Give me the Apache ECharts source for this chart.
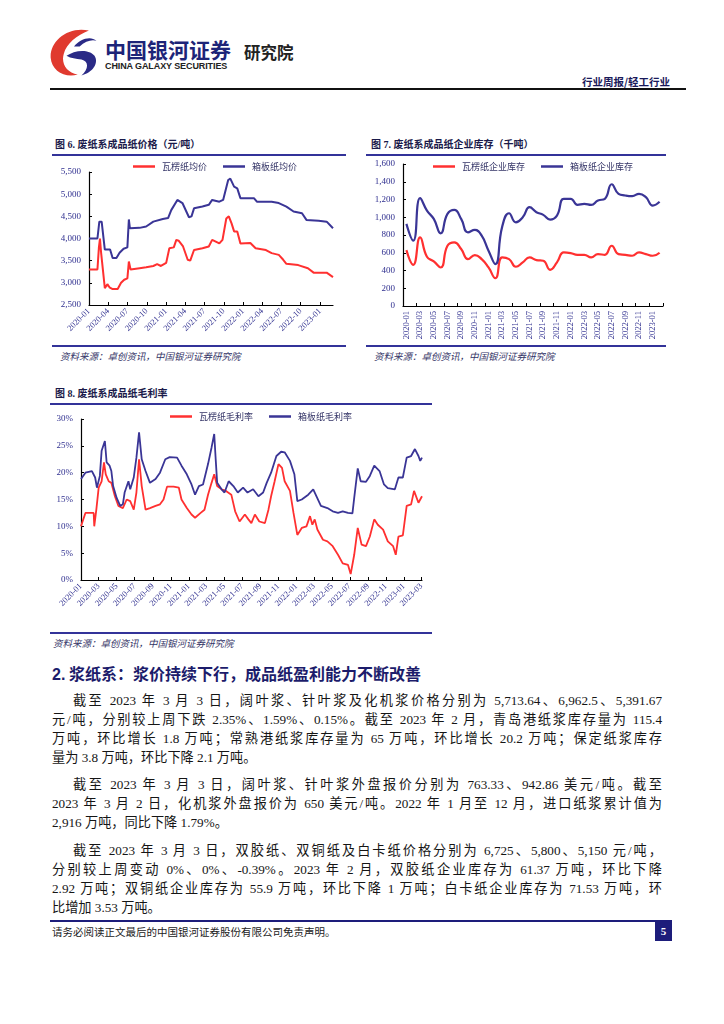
<!DOCTYPE html>
<html><head><meta charset="utf-8">
<script src="https://cdn.jsdelivr.net/npm/echarts@6.0.0/dist/echarts.min.js"></script>
<style>
html,body{margin:0;padding:0;background:#fff;}
#page{position:relative;width:724px;height:1024px;overflow:hidden;font-family:"Noto Sans CJK SC","Liberation Serif",serif;}
.abs{position:absolute;white-space:nowrap;}
.rule{position:absolute;background:#333399;height:2px;}
.title{position:absolute;font-size:10px;font-weight:bold;color:#1a1a4a;line-height:14px;white-space:nowrap;font-family:"Liberation Serif","Noto Sans CJK SC",serif;}
.src{position:absolute;font-size:9.5px;font-style:italic;color:#333366;line-height:14px;white-space:nowrap;}
.chart{position:absolute;}
.para{position:absolute;left:52px;width:610px;font-size:13.2px;color:#151515;font-family:"Liberation Serif","Noto Sans CJK SC",serif;}
.ln{height:19px;line-height:19px;text-align:justify;text-align-last:justify;white-space:nowrap;}
.ln.last{text-align:left;text-align-last:left;}
.ind{padding-left:21px;}
</style></head>
<body><div id="page">
<!-- header -->
<svg class="abs" style="left:46px;top:27px" width="56" height="52" viewBox="0 0 60 54">
  <path d="M46 3 C24 -2 4 14 5 32 C6 46 20 54 34 50 C22 48 16 38 19 28 C22 17 33 8 46 3 Z" fill="#e03a2f"/>
  <path d="M22 30 C30 24 46 22 52 30 C57 38 50 48 38 51 C46 44 46 36 38 34 C32 33 27 33 22 30 Z" fill="#2a2a86"/>
  <path d="M30 20 C36 12 48 8 54 14 C50 12 42 14 36 20 Z" fill="#2a2a86"/>
</svg>
<div class="abs" style="left:105px;top:35px;font-size:21px;line-height:28px;font-weight:bold;color:#1d2478;">中国银河证券</div>
<div class="abs" style="left:105px;top:60px;font-size:9px;line-height:12px;font-weight:bold;color:#222;font-family:'Liberation Sans',sans-serif;letter-spacing:-0.1px;">CHINA GALAXY SECURITIES</div>
<div class="abs" style="left:244px;top:41px;font-size:16.5px;line-height:22px;font-weight:bold;color:#222;">研究院</div>
<div class="abs" style="left:582px;top:74px;font-size:10.5px;line-height:16px;font-weight:bold;color:#1a1a5a;">行业周报/轻工行业</div>
<div class="abs" style="left:50px;top:88px;width:636px;height:2px;background:#111;"></div>

<!-- chart 6 -->
<div class="title" style="left:55px;top:138px;">图 6. 废纸系成品纸价格（元/吨）</div>
<div class="rule" style="left:52px;top:154px;width:294px;"></div>
<div id="c6" class="chart" style="left:40px;top:156px;width:312px;height:188px;"></div>
<div class="rule" style="left:52px;top:345px;width:294px;"></div>
<div class="src" style="left:60px;top:349px;">资料来源：卓创资讯，中国银河证券研究院</div>

<!-- chart 7 -->
<div class="title" style="left:371px;top:138px;">图 7. 废纸系成品纸企业库存（千吨）</div>
<div class="rule" style="left:366px;top:154px;width:300px;"></div>
<div id="c7" class="chart" style="left:358px;top:156px;width:312px;height:188px;"></div>
<div class="rule" style="left:366px;top:345px;width:300px;"></div>
<div class="src" style="left:374px;top:349px;">资料来源：卓创资讯，中国银河证券研究院</div>

<!-- chart 8 -->
<div class="title" style="left:55px;top:387px;">图 8. 废纸系成品纸毛利率</div>
<div class="rule" style="left:50px;top:403px;width:382px;"></div>
<div id="c8" class="chart" style="left:40px;top:406px;width:395px;height:226px;"></div>
<div class="rule" style="left:50px;top:632px;width:382px;"></div>
<div class="src" style="left:53px;top:636px;">资料来源：卓创资讯，中国银河证券研究院</div>

<!-- text -->
<div class="abs" style="left:52px;top:661px;font-size:16px;line-height:24px;font-weight:bold;color:#1c1c6b;"><span style="font-family:'Liberation Sans',sans-serif;">2.</span> 浆纸系：浆价持续下行，成品纸盈利能力不断改善</div>
<div class="para" style="top:691px;">
<div class="ln ind">截至 2023 年 3 月 3 日，阔叶浆、针叶浆及化机浆价格分别为 5,713.64、6,962.5、5,391.67</div>
<div class="ln">元/吨，分别较上周下跌 2.35%、1.59%、0.15%。截至 2023 年 2 月，青岛港纸浆库存量为 115.4</div>
<div class="ln">万吨，环比增长 1.8 万吨；常熟港纸浆库存量为 65 万吨，环比增长 20.2 万吨；保定纸浆库存</div>
<div class="ln last">量为 3.8 万吨，环比下降 2.1 万吨。</div>
</div>
<div class="para" style="top:775px;">
<div class="ln ind">截至 2023 年 3 月 3 日，阔叶浆、针叶浆外盘报价分别为 763.33、942.86 美元/吨。截至</div>
<div class="ln">2023 年 3 月 2 日，化机浆外盘报价为 650 美元/吨。2022 年 1 月至 12 月，进口纸浆累计值为</div>
<div class="ln last">2,916 万吨，同比下降 1.79%。</div>
</div>
<div class="para" style="top:841px;">
<div class="ln ind">截至 2023 年 3 月 3 日，双胶纸、双铜纸及白卡纸价格分别为 6,725、5,800、5,150 元/吨，</div>
<div class="ln">分别较上周变动 0%、0%、-0.39%。2023 年 2 月，双胶纸企业库存为 61.37 万吨，环比下降</div>
<div class="ln">2.92 万吨；双铜纸企业库存为 55.9 万吨，环比下降 1 万吨；白卡纸企业库存为 71.53 万吨，环</div>
<div class="ln last">比增加 3.53 万吨。</div>
</div>

<!-- footer -->
<div class="abs" style="left:50px;top:920px;width:622px;height:2px;background:#1d1d7b;"></div>
<div class="abs" style="left:52px;top:925px;font-size:10.5px;line-height:14px;color:#222;">请务必阅读正文最后的中国银河证券股份有限公司免责声明。</div>
<div class="abs" style="left:655px;top:922px;width:17px;height:19px;background:#1d1d7b;color:#fff;font-size:11px;line-height:19px;text-align:center;font-weight:bold;font-family:'Liberation Serif',serif;">5</div>
</div>

<script>
// ---------- data ----------
// Fig 6: finished paper prices (yuan/ton)
const P6_NAMES = ['瓦楞纸均价', '箱板纸均价'];
const P6_TICKS = ['2020-01-01','2020-04-01','2020-07-01','2020-10-01','2021-01-01','2021-04-01','2021-07-01','2021-10-01','2022-01-01','2022-04-01','2022-07-01','2022-10-01','2023-01-01'];
const P6_RED = [['2020-01-01',3300],['2020-02-10',3300],['2020-02-17',3800],['2020-02-22',4000],['2020-02-27',3700],['2020-03-16',2880],['2020-03-28',2970],['2020-04-07',2900],['2020-04-22',2860],['2020-05-16',2860],['2020-06-01',3000],['2020-06-16',3070],['2020-07-01',3100],['2020-07-08',3480],['2020-07-16',3300],['2020-08-28',3330],['2020-09-28',3350],['2020-11-01',3380],['2020-11-19',3420],['2020-12-07',3380],['2021-01-01',3450],['2021-01-16',3780],['2021-02-06',3800],['2021-02-18',3970],['2021-03-01',3950],['2021-03-22',3820],['2021-04-13',3520],['2021-04-25',3500],['2021-05-13',3740],['2021-06-22',3780],['2021-07-22',3820],['2021-08-07',3970],['2021-09-10',3890],['2021-09-25',3970],['2021-10-13',4450],['2021-10-25',4500],['2021-11-07',4340],['2021-11-19',4160],['2021-12-04',4160],['2021-12-19',3890],['2022-02-04',3900],['2022-03-01',3780],['2022-04-19',3740],['2022-05-16',3670],['2022-06-19',3630],['2022-07-10',3520],['2022-07-25',3430],['2022-09-19',3400],['2022-11-04',3330],['2022-12-01',3230],['2023-02-01',3230],['2023-03-03',3130]];
const P6_BLUE = [['2020-01-01',4000],['2020-02-10',4000],['2020-02-19',4380],['2020-03-01',4380],['2020-03-16',3750],['2020-04-10',3750],['2020-04-22',3560],['2020-05-10',3560],['2020-05-25',3680],['2020-06-13',3770],['2020-07-01',3800],['2020-07-08',4430],['2020-07-13',4230],['2020-08-28',4240],['2020-09-28',4270],['2020-11-01',4380],['2020-12-16',4440],['2021-01-10',4460],['2021-01-25',4640],['2021-02-23',4870],['2021-03-01',4890],['2021-03-19',4800],['2021-04-19',4480],['2021-05-01',4500],['2021-05-13',4680],['2021-06-22',4720],['2021-07-22',4760],['2021-08-07',4870],['2021-09-10',4830],['2021-09-28',4870],['2021-10-22',5320],['2021-11-01',5350],['2021-11-10',5330],['2021-11-19',5170],['2021-12-04',5130],['2021-12-19',4910],['2022-02-21',4910],['2022-03-07',4830],['2022-05-16',4830],['2022-06-19',4800],['2022-07-25',4720],['2022-08-28',4610],['2022-10-07',4570],['2022-10-28',4420],['2022-12-25',4400],['2023-02-01',4380],['2023-03-03',4230]];

// Fig 7: enterprise inventory (kt), monthly
const P7_NAMES = ['瓦楞纸企业库存', '箱板纸企业库存'];
const P7_MONTHS = ['2020-01','2020-02','2020-03','2020-04','2020-05','2020-06','2020-07','2020-08','2020-09','2020-10','2020-11','2020-12','2021-01','2021-02','2021-03','2021-04','2021-05','2021-06','2021-07','2021-08','2021-09','2021-10','2021-11','2021-12','2022-01','2022-02','2022-03','2022-04','2022-05','2022-06','2022-07','2022-08','2022-09','2022-10','2022-11','2022-12','2023-01','2023-02'];
const P7_RED = [630,464,774,555,502,434,679,717,642,528,574,528,434,313,547,528,442,491,547,517,510,408,491,604,596,577,577,547,585,577,679,585,577,566,604,585,566,600];
const P7_BLUE = [925,736,1215,1075,981,819,1038,1083,981,830,857,792,623,472,894,1045,943,1000,1113,1057,1027,974,1019,1208,1208,1140,1151,1140,1189,1208,1372,1264,1245,1238,1264,1227,1132,1175];

// Fig 8: gross margin (%)
const P8_NAMES = ['瓦楞纸毛利率', '箱板纸毛利率'];
const P8_TICKS = ['2020-01-01','2020-03-01','2020-05-01','2020-07-01','2020-09-01','2020-11-01','2021-01-01','2021-03-01','2021-05-01','2021-07-01','2021-09-01','2021-11-01','2022-01-01','2022-03-01','2022-05-01','2022-07-01','2022-09-01','2022-11-01','2023-01-01','2023-03-01'];
const P8_RED = [['2020-01-01',10.0],['2020-01-16',12.5],['2020-02-13',12.5],['2020-02-15',10.0],['2020-02-22',13.1],['2020-03-01',17.2],['2020-03-11',18.4],['2020-03-19',21.9],['2020-03-25',19.7],['2020-04-04',18.4],['2020-04-13',18.1],['2020-04-25',15.6],['2020-05-07',13.8],['2020-05-22',13.4],['2020-06-04',15.0],['2020-06-16',14.7],['2020-06-28',13.1],['2020-07-07',16.3],['2020-07-16',22.5],['2020-07-25',17.5],['2020-08-07',13.1],['2020-08-22',13.4],['2020-09-10',13.8],['2020-09-25',14.1],['2020-10-07',15.0],['2020-10-19',17.4],['2020-11-10',17.4],['2020-11-28',17.2],['2020-12-07',15.0],['2020-12-25',13.4],['2021-01-10',12.2],['2021-01-22',11.6],['2021-02-10',12.5],['2021-02-23',13.1],['2021-03-07',15.9],['2021-03-19',18.1],['2021-03-28',19.7],['2021-04-07',17.5],['2021-04-22',16.9],['2021-05-07',16.6],['2021-05-25',15.9],['2021-06-07',12.8],['2021-06-22',10.9],['2021-07-10',12.2],['2021-07-22',11.3],['2021-08-01',10.6],['2021-08-13',12.2],['2021-08-28',10.9],['2021-09-16',10.6],['2021-09-28',13.1],['2021-10-07',15.6],['2021-10-19',18.4],['2021-11-01',21.6],['2021-11-13',20.9],['2021-11-22',18.4],['2021-12-10',16.6],['2021-12-22',12.5],['2022-01-04',8.4],['2022-01-19',9.7],['2022-02-04',10.0],['2022-02-16',11.9],['2022-02-24',10.3],['2022-03-04',11.3],['2022-03-13',9.4],['2022-04-01',7.5],['2022-04-16',7.2],['2022-05-04',6.3],['2022-05-22',4.7],['2022-06-07',3.1],['2022-06-25',2.8],['2022-07-04',1.1],['2022-07-16',4.7],['2022-07-28',9.7],['2022-08-10',6.6],['2022-08-25',6.3],['2022-09-07',8.1],['2022-09-22',11.3],['2022-10-04',10.3],['2022-10-22',9.4],['2022-11-07',7.2],['2022-11-25',6.3],['2022-12-04',4.7],['2022-12-13',8.1],['2022-12-28',8.3],['2023-01-10',13.8],['2023-01-25',14.1],['2023-02-04',16.6],['2023-02-19',14.4],['2023-03-03',15.6]];
const P8_BLUE = [['2020-01-01',18.8],['2020-01-16',20.0],['2020-02-07',20.3],['2020-02-18',19.1],['2020-02-24',17.2],['2020-03-05',19.4],['2020-03-11',24.1],['2020-03-22',25.9],['2020-03-28',21.9],['2020-04-07',21.3],['2020-04-13',20.3],['2020-04-19',17.5],['2020-05-01',15.3],['2020-05-13',13.8],['2020-05-22',14.1],['2020-05-28',16.3],['2020-06-10',18.4],['2020-06-16',16.9],['2020-06-28',19.1],['2020-07-07',22.8],['2020-07-16',27.5],['2020-07-25',22.5],['2020-08-07',20.3],['2020-08-22',18.1],['2020-09-10',18.8],['2020-09-25',20.0],['2020-10-13',22.5],['2020-10-28',22.9],['2020-11-22',22.8],['2020-12-07',21.3],['2020-12-25',19.7],['2021-01-10',17.8],['2021-01-22',15.9],['2021-02-04',17.5],['2021-02-18',17.8],['2021-03-07',21.6],['2021-03-19',24.7],['2021-03-28',27.2],['2021-04-02',22.5],['2021-04-07',18.1],['2021-04-22',16.9],['2021-05-02',16.3],['2021-05-16',18.4],['2021-06-01',17.5],['2021-06-16',16.3],['2021-07-04',17.2],['2021-07-19',16.3],['2021-08-07',16.9],['2021-08-25',15.6],['2021-09-10',16.3],['2021-09-22',18.1],['2021-10-07',20.0],['2021-10-25',23.1],['2021-11-10',23.9],['2021-11-22',23.8],['2021-12-10',22.2],['2021-12-25',19.7],['2022-01-04',14.7],['2022-01-19',15.0],['2022-02-10',15.9],['2022-02-27',16.9],['2022-03-10',15.6],['2022-03-25',13.8],['2022-04-16',13.4],['2022-05-04',12.8],['2022-05-22',12.5],['2022-06-07',12.8],['2022-06-25',12.5],['2022-07-10',12.4],['2022-07-16',15.3],['2022-07-28',20.8],['2022-08-07',18.4],['2022-08-25',18.3],['2022-09-07',19.4],['2022-09-22',21.3],['2022-10-10',20.3],['2022-10-25',17.8],['2022-11-07',17.1],['2022-12-01',16.9],['2022-12-13',19.1],['2022-12-28',19.1],['2023-01-10',22.8],['2023-01-25',23.1],['2023-02-07',24.4],['2023-02-19',23.1],['2023-02-25',22.2],['2023-03-03',22.8]];

// ---------- helpers ----------
const RED = '#ff3030', BLUE = '#3a3596', LBL = '#2f2f8f';
function ts(s){ const p = s.split('-').map(Number); return new Date(p[0], p[1]-1, p[2]||1).getTime(); }
function ym(v){ const d = new Date(v); return d.getFullYear() + '-' + String(d.getMonth()+1).padStart(2,'0'); }
function thousands(v){ return String(v).replace(/\B(?=(\d{3})+(?!\d))/g, ','); }
function asTime(arr){ return arr.map(function(p){ return [ts(p[0]), p[1]]; }); }
const serif = 'Liberation Serif';
function legendCfg(left, names){
  return {left:left, top:1, icon:'rect', itemWidth:22, itemHeight:2.5, itemGap:16,
    textStyle:{fontSize:9, color:'#333366', fontFamily:'Noto Sans CJK SC', padding:[0,0,0,2]}, data:names};
}
function yAxisCfg(min, max, interval, fmt){
  return {type:'value', min:min, max:max, interval:interval,
    axisLine:{show:true, lineStyle:{color:'#000', width:1.2}},
    axisTick:{show:true, inside:true, length:3, lineStyle:{color:'#000'}},
    splitLine:{show:false},
    axisLabel:{formatter:fmt, color:LBL, fontSize:9, fontFamily:serif, margin:8}};
}
// date x-axis drawn as a numeric (timestamp) scale with explicit month tick values
function dateAxisCfg(ticks, maxDate){
  const t = ticks.map(ts);
  return {type:'value', min:ts(ticks[0]), max:ts(maxDate),
    axisLine:{lineStyle:{color:'#000', width:1.2}},
    axisTick:{show:true, inside:true, length:3, customValues:t, lineStyle:{color:'#000'}},
    splitLine:{show:false},
    axisLabel:{customValues:t, formatter:function(v){return ym(v);}, rotate:45, color:LBL, fontSize:8.5, fontFamily:serif, margin:5, showMinLabel:true, showMaxLabel:true}};
}
function lineS(name, data, color, w, smooth){
  return {name:name, type:'line', data:data, showSymbol:false, symbol:'none', smooth:smooth || false,
    lineStyle:{color:color, width:w}, itemStyle:{color:color}};
}

// ---------- chart 6 ----------
try {
const c6 = echarts.init(document.getElementById('c6'), null, {renderer:'canvas'});
c6.setOption({
  animation:false,
  grid:{left:49, right:19, top:16, bottom:39},
  legend:legendCfg(88, P6_NAMES),
  xAxis:dateAxisCfg(P6_TICKS, '2023-03-03'),
  yAxis:yAxisCfg(2500, 5500, 500, function(v){return thousands(v);}),
  series:[lineS(P6_NAMES[0], asTime(P6_RED), RED, 2), lineS(P6_NAMES[1], asTime(P6_BLUE), BLUE, 2)]
});
} catch(e) { console.error(e); }

// ---------- chart 7 ----------
try {
const c7 = echarts.init(document.getElementById('c7'), null, {renderer:'canvas'});
c7.setOption({
  animation:false,
  grid:{left:45, right:7, top:8, bottom:38},
  legend:legendCfg(70, P7_NAMES),
  xAxis:{type:'category', data:P7_MONTHS, boundaryGap:true,
    axisLine:{lineStyle:{color:'#000', width:1.2}},
    axisTick:{show:true, inside:true, length:3, interval:1, lineStyle:{color:'#000'}},
    axisLabel:{interval:1, rotate:90, color:LBL, fontSize:8.5, fontFamily:serif, margin:5}},
  yAxis:yAxisCfg(0, 1600, 200, function(v){return thousands(v);}),
  series:[lineS(P7_NAMES[0], P7_RED, RED, 2.2, 0.5), lineS(P7_NAMES[1], P7_BLUE, BLUE, 2.2, 0.5)]
});
} catch(e) { console.error(e); }

// ---------- chart 8 ----------
try {
const c8 = echarts.init(document.getElementById('c8'), null, {renderer:'canvas'});
c8.setOption({
  animation:false,
  grid:{left:41, right:13, top:13, bottom:52},
  legend:legendCfg(125, P8_NAMES),
  xAxis:dateAxisCfg(P8_TICKS, '2023-03-03'),
  yAxis:yAxisCfg(0, 30, 5, '{value}%'),
  series:[lineS(P8_NAMES[0], asTime(P8_RED), RED, 1.8), lineS(P8_NAMES[1], asTime(P8_BLUE), BLUE, 1.8)]
});
} catch(e) { console.error(e); }
</script>
</body></html>
